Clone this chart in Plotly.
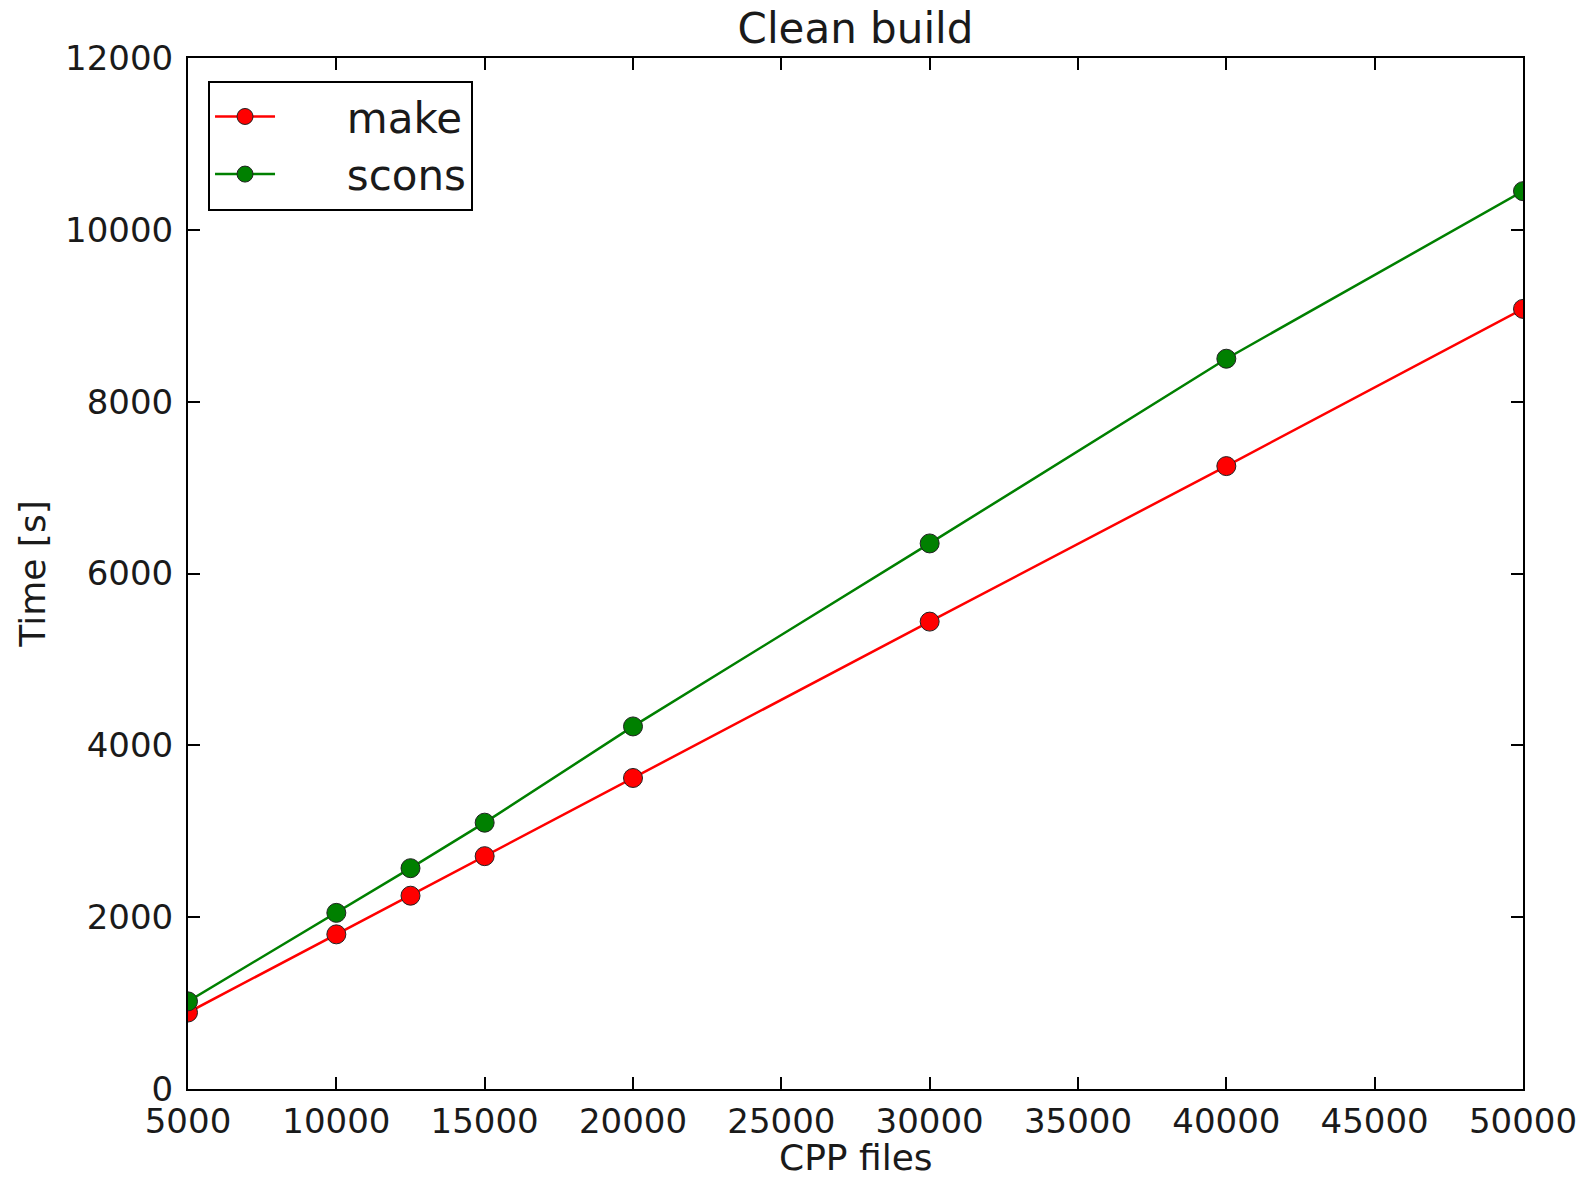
import plotly.graph_objects as go

cpp_files = [5000, 10000, 12500, 15000, 20000, 30000, 40000, 50000]
make_time = [890, 1800, 2250, 2710, 3620, 5440, 7250, 9080]
scons_time = [1020, 2050, 2570, 3100, 4220, 6350, 8500, 10450]
series_names = ["make", "scons"]

x_ticks = [5000, 10000, 15000, 20000, 25000, 30000, 35000, 40000, 45000, 50000]
y_ticks = [0, 2000, 4000, 6000, 8000, 10000, 12000]

FONT = "DejaVu Sans"
TXT = "#1a1a1a"
PAD = "\u00a0" * 5

fig = go.Figure()
fig.add_trace(go.Scatter(
    x=cpp_files, y=make_time, name=PAD + series_names[0], mode="lines+markers",
    line=dict(color="#ff0000", width=2.5),
    marker=dict(color="#ff0000", size=19, line=dict(color="#222222", width=1)),
))
fig.add_trace(go.Scatter(
    x=cpp_files, y=scons_time, name=PAD + series_names[1], mode="lines+markers",
    line=dict(color="#008000", width=2.5),
    marker=dict(color="#008000", size=19, line=dict(color="#222222", width=1)),
))

axis_common = dict(
    showgrid=False, zeroline=False, showline=True, linecolor="black", linewidth=2,
    mirror="ticks", ticks="inside", ticklen=12, tickwidth=1.5, tickcolor="black",
    tickfont=dict(family=FONT, size=34, color=TXT), automargin=False,
)

fig.update_layout(
    width=1584, height=1181,
    margin=dict(l=188, r=61, t=58, b=92),
    paper_bgcolor="white", plot_bgcolor="white",
    title=dict(text="Clean build", x=0.5, xref="paper", xanchor="center",
               y=1 - 28 / 1181, yref="container", yanchor="middle",
               font=dict(family=FONT, size=42, color=TXT)),
    xaxis=dict(range=[5000, 50000], tickvals=x_ticks, ticktext=[str(v) for v in x_ticks],
               ticklabelstandoff=1,
               **axis_common),
    yaxis=dict(range=[0, 12000], tickvals=y_ticks, ticktext=[str(v) for v in y_ticks],
               ticklabelstandoff=6,
               title=dict(text="Time [s]", font=dict(family=FONT, size=36, color=TXT), standoff=8),
               **axis_common),
    legend=dict(x=0.015, y=0.978, xanchor="left", yanchor="top",
                bordercolor="black", borderwidth=2, bgcolor="white",
                font=dict(family=FONT, size=42, color=TXT),
                itemwidth=60),
    showlegend=True,
    annotations=[dict(text="CPP files", xref="paper", yref="paper", x=0.5, y=-90 / 1031,
                      xanchor="center", yanchor="bottom", showarrow=False, borderpad=0,
                      font=dict(family=FONT, size=36, color=TXT))],
)

fig.write_html("out.html")
